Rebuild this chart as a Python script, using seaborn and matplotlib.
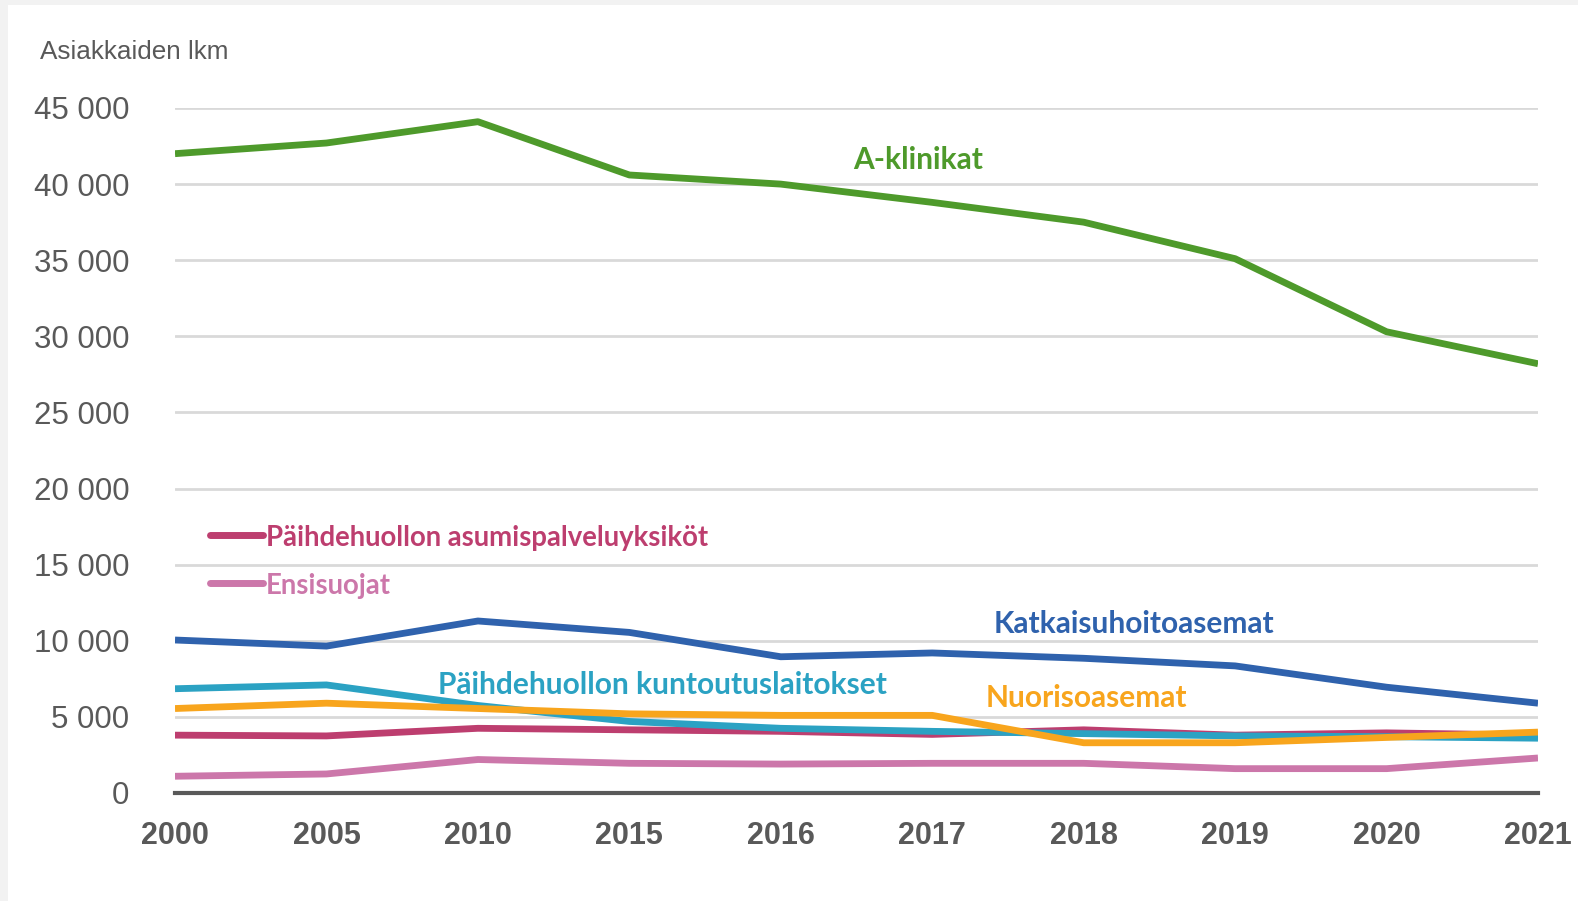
import matplotlib
matplotlib.use('Agg')
from matplotlib import pyplot as plt
from matplotlib.patches import Rectangle
from matplotlib.ticker import FuncFormatter
import seaborn as sns
import pandas as pd

years = ['2000', '2005', '2010', '2015', '2016', '2017', '2018', '2019', '2020', '2021']

a_klinikat = [42000, 42700, 44100, 40600, 40000, 38800, 37500, 35100, 30300, 28200]
katkaisu = [10050, 9650, 11300, 10550, 8950, 9200, 8850, 8350, 6950, 5900]
kuntoutus = [6850, 7100, 5750, 4700, 4250, 4050, 3900, 3750, 3700, 3600]
nuoriso = [5550, 5900, 5550, 5200, 5100, 5100, 3300, 3300, 3650, 4000]
asumis = [3800, 3750, 4250, 4150, 4050, 3850, 4150, 3800, 3950, 3800]
ensisuojat = [1100, 1250, 2200, 1950, 1900, 1950, 1950, 1600, 1600, 2300]

series = {
    'Päihdehuollon asumispalveluyksiköt': asumis,
    'Ensisuojat': ensisuojat,
    'Päihdehuollon kuntoutuslaitokset': kuntoutus,
    'Nuorisoasemat': nuoriso,
    'Katkaisuhoitoasemat': katkaisu,
    'A-klinikat': a_klinikat,
}
colors = {
    'A-klinikat': '#4e9a2b',
    'Katkaisuhoitoasemat': '#2f62ad',
    'Päihdehuollon kuntoutuslaitokset': '#2ba2c3',
    'Nuorisoasemat': '#f8a51d',
    'Päihdehuollon asumispalveluyksiköt': '#bd3e6f',
    'Ensisuojat': '#cc77aa',
}

rows = []
for name, vals in series.items():
    for yr, v in zip(years, vals):
        rows.append({'vuosi': yr, 'asiakkaat': v, 'sarja': name})
df = pd.DataFrame(rows)

sns.set_style('white')
plt.rcParams['font.family'] = ['Liberation Sans', 'DejaVu Sans']

fig = plt.figure(figsize=(15.78, 9.01), dpi=100, facecolor='#f2f2f2')
fig.patches.append(Rectangle((8 / 1578, 0), 1, 1 - 5 / 901, transform=fig.transFigure,
                             facecolor='white', edgecolor='none', zorder=-10))
ax = fig.add_axes([175 / 1578, 1 - 793 / 901, 1363 / 1578, 685 / 901])
ax.set_zorder(1)
ax.set_facecolor('none')

sns.lineplot(data=df, x='vuosi', y='asiakkaat', hue='sarja', hue_order=list(series.keys()),
             palette=colors, linewidth=4.9, legend=False, ax=ax, zorder=3)
for line in ax.lines:
    line.set_solid_capstyle('butt')
    line.set_solid_joinstyle('round')

ax.set_xlim(0, len(years) - 1)
ax.set_ylim(0, 45000)
ax.set_yticks(range(0, 45001, 5000))
ax.yaxis.set_major_formatter(FuncFormatter(lambda v, p: f'{int(v):,}'.replace(',', ' ')))
ax.grid(axis='y', color='#d9d9d9', linewidth=2)
ax.grid(axis='x', visible=False)
for s in ['top', 'right', 'left']:
    ax.spines[s].set_visible(False)
ax.spines['bottom'].set_color('#595959')
ax.spines['bottom'].set_linewidth(3)
ax.spines['bottom'].set_zorder(4)
ax.tick_params(axis='y', length=0, pad=33, labelsize=22.5, labelcolor='#595959')
ax.tick_params(axis='x', length=0, pad=20, labelsize=22, labelcolor='#595959')
for t in ax.get_xticklabels():
    t.set_fontweight('bold')
ax.set_xlabel('')
ax.set_ylabel('')

fig.text(40 / 1578, 1 - 52 / 901, 'Asiakkaiden lkm', fontsize=18.8, color='#595959', va='center')

lbl = dict(fontsize=21.5, fontweight='bold', family=['Lato', 'DejaVu Sans'], va='center')
ax.text(4.91, 41600, 'A-klinikat', color=colors['A-klinikat'], ha='center', **lbl)
ax.text(6.33, 11100, 'Katkaisuhoitoasemat', color=colors['Katkaisuhoitoasemat'], ha='center', **lbl)
ax.text(3.22, 7100, 'Päihdehuollon kuntoutuslaitokset', color=colors['Päihdehuollon kuntoutuslaitokset'],
        ha='center', **lbl)
ax.text(6.02, 6250, 'Nuorisoasemat', color=colors['Nuorisoasemat'], ha='center', **lbl)

lgd = dict(lbl, fontsize=19.8)
for name, yv in [('Päihdehuollon asumispalveluyksiköt', 16950), ('Ensisuojat', 13800)]:
    ax.plot([0.23, 0.58], [yv, yv], color=colors[name], linewidth=5, solid_capstyle='round', zorder=3)
    ax.text(0.6, yv - 200, name, color=colors[name], ha='left', **lgd)

fig.savefig('out.png', dpi=100, facecolor=fig.get_facecolor())
